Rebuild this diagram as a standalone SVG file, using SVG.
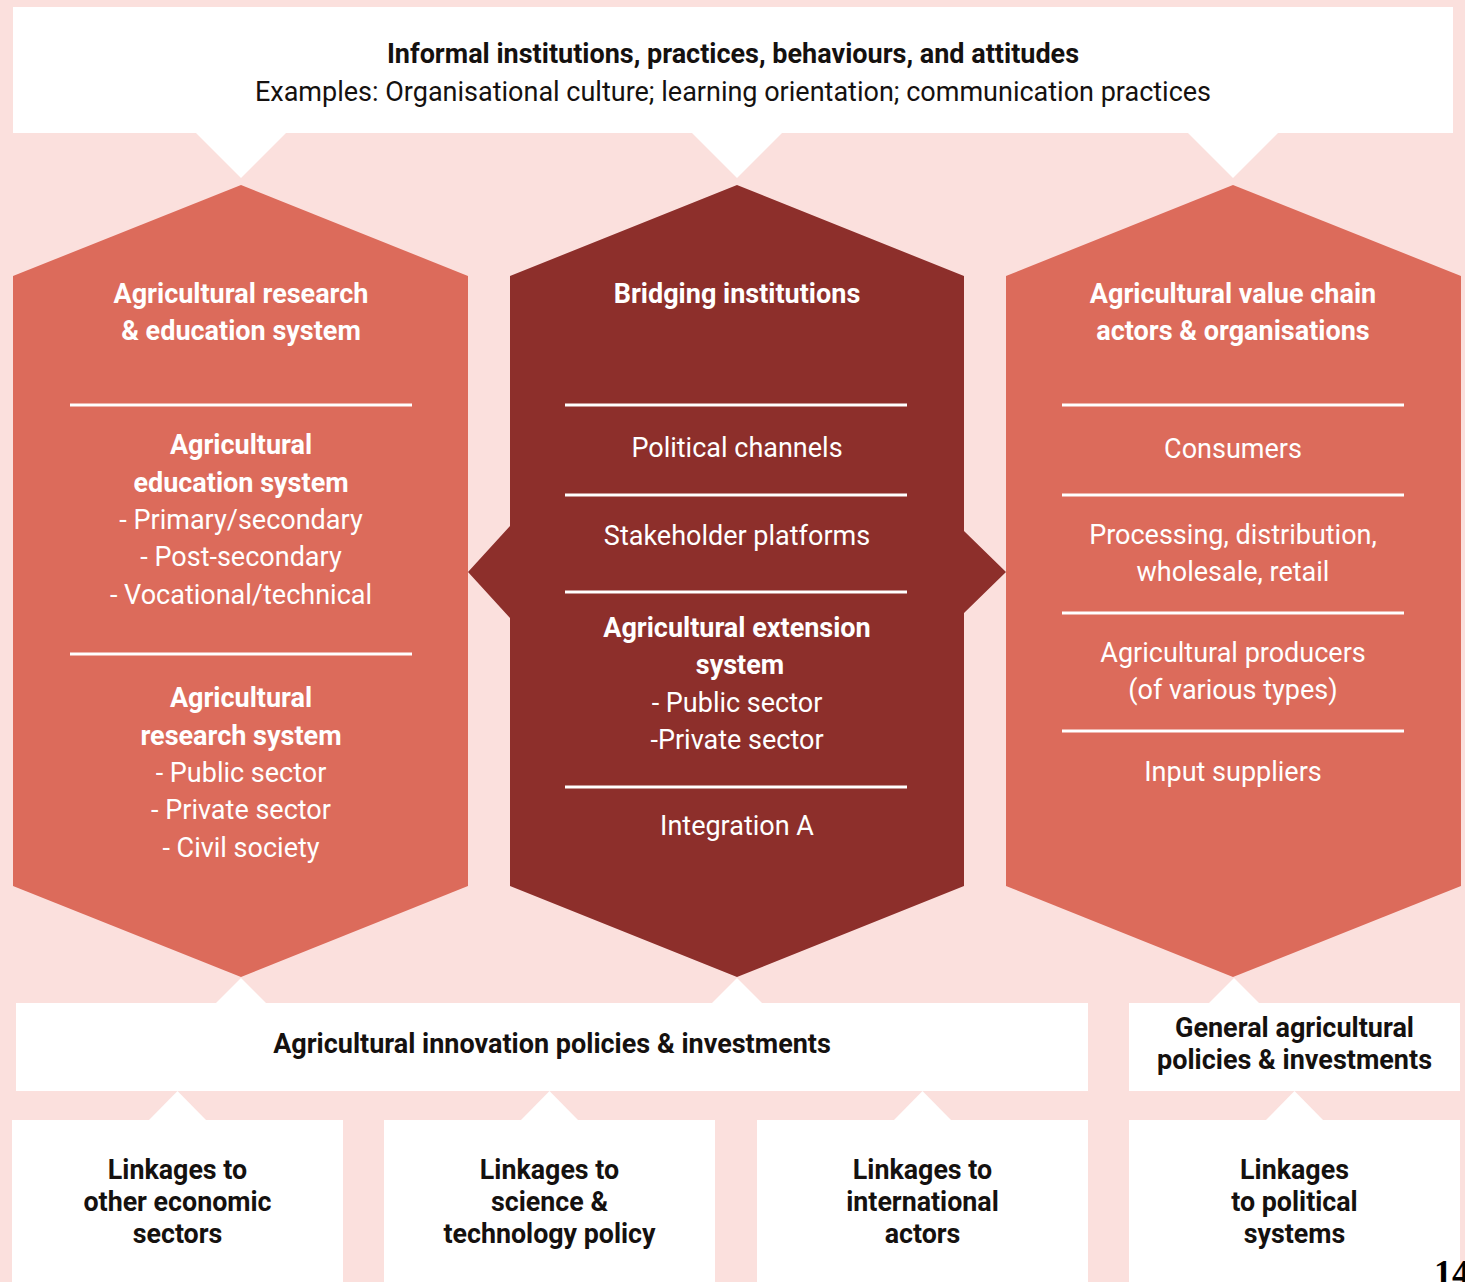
<svg xmlns="http://www.w3.org/2000/svg" width="1465" height="1282" viewBox="0 0 1465 1282">
  <style>
    .bg { fill: #FBE0DD; }
    .box { fill: #FFFFFF; }
    .hex { fill: #DC6B5B; }
    .hex-dark { fill: #8D2F2B; }
    .sep { stroke: #FFFFFF; stroke-width: 3; fill: none; }
    .notch { fill: #FFFFFF; }
    text { font-family: Roboto, "Liberation Sans", sans-serif; text-anchor: middle; }
    .t-dark { fill: #15110F; }
    .t-light { fill: #FFFFFF; }
    .b { font-weight: 700; }
    .r { font-weight: 400; }
    .s25 { font-size: 27px; }
    .s24 { font-size: 26.8px; }
    .page { font-family: "Liberation Serif", serif; font-weight: 700; font-size: 36px; fill: #000000; text-anchor: start; }
  </style>

  <rect class="bg" x="0" y="0" width="1465" height="1282"/>

  <!-- Top banner -->
  <g id="informal-institutions">
    <rect class="box" x="13" y="7" width="1440" height="126"/>
    <text class="t-dark b s25" x="733" y="63">Informal institutions, practices, behaviours, and attitudes</text>
    <text class="t-dark r s25" x="733" y="101">Examples: Organisational culture; learning orientation; communication practices</text>
  </g>

  <!-- Connectors: pointer notches between blocks -->
  <g id="connectors">
    <polygon class="notch" points="195,132 287,132 241,178"/>
    <polygon class="notch" points="691,132 783,132 737,178"/>
    <polygon class="notch" points="1187,132 1279,132 1233,178"/>
    <polygon class="notch" points="215,1004 241,978 267,1004"/>
    <polygon class="notch" points="711,1004 737,978 763,1004"/>
    <polygon class="notch" points="1208,1004 1234,978 1260,1004"/>
    <polygon class="notch" points="148,1121 177.5,1091 207,1121"/>
    <polygon class="notch" points="520,1121 549.5,1091 579,1121"/>
    <polygon class="notch" points="893,1121 922.5,1091 952,1121"/>
    <polygon class="notch" points="1265,1121 1294.5,1091 1324,1121"/>
  </g>

  <!-- Left hexagon -->
  <g id="research-education">
    <polygon class="hex" points="241,185 468,276 468,886 241,977 13,886 13,276"/>
    <line class="sep" x1="70" y1="405" x2="412" y2="405"/>
    <line class="sep" x1="70" y1="654" x2="412" y2="654"/>
    <text class="t-light b s25" x="241" y="303">Agricultural research</text>
    <text class="t-light b s25" x="241" y="340">&amp; education system</text>
    <text class="t-light b s25" x="241" y="454">Agricultural</text>
    <text class="t-light b s25" x="241" y="492">education system</text>
    <text class="t-light r s25" x="241" y="529">- Primary/secondary</text>
    <text class="t-light r s25" x="241" y="566">- Post-secondary</text>
    <text class="t-light r s25" x="241" y="604">- Vocational/technical</text>
    <text class="t-light b s25" x="241" y="707">Agricultural</text>
    <text class="t-light b s25" x="241" y="745">research system</text>
    <text class="t-light r s25" x="241" y="782">- Public sector</text>
    <text class="t-light r s25" x="241" y="819">- Private sector</text>
    <text class="t-light r s25" x="241" y="857">- Civil society</text>
  </g>

  <!-- Middle hexagon -->
  <g id="bridging-institutions">
    <polygon class="hex-dark" points="737,185 964,276 964,531 1006,572 964,613 964,886 737,977 510,886 510,618 468,572 510,526 510,276"/>
    <line class="sep" x1="565" y1="405" x2="907" y2="405"/>
    <line class="sep" x1="565" y1="495" x2="907" y2="495"/>
    <line class="sep" x1="565" y1="592" x2="907" y2="592"/>
    <line class="sep" x1="565" y1="787" x2="907" y2="787"/>
    <text class="t-light b s25" x="737" y="303">Bridging institutions</text>
    <text class="t-light r s25" x="737" y="457">Political channels</text>
    <text class="t-light r s25" x="737" y="545">Stakeholder platforms</text>
    <text class="t-light b s25" x="737" y="637">Agricultural extension</text>
    <text class="t-light b s25" x="740" y="674">system</text>
    <text class="t-light r s25" x="737" y="712">- Public sector</text>
    <text class="t-light r s25" x="737" y="749">-Private sector</text>
    <text class="t-light r s25" x="737" y="835">Integration A</text>
  </g>

  <!-- Right hexagon -->
  <g id="value-chain">
    <polygon class="hex" points="1233,185 1461,276 1461,886 1233,977 1006,886 1006,276"/>
    <line class="sep" x1="1062" y1="405" x2="1404" y2="405"/>
    <line class="sep" x1="1062" y1="495" x2="1404" y2="495"/>
    <line class="sep" x1="1062" y1="613" x2="1404" y2="613"/>
    <line class="sep" x1="1062" y1="731" x2="1404" y2="731"/>
    <text class="t-light b s25" x="1233" y="303">Agricultural value chain</text>
    <text class="t-light b s25" x="1233" y="340">actors &amp; organisations</text>
    <text class="t-light r s25" x="1233" y="458">Consumers</text>
    <text class="t-light r s25" x="1233" y="544">Processing, distribution,</text>
    <text class="t-light r s25" x="1233" y="581">wholesale, retail</text>
    <text class="t-light r s25" x="1233" y="662">Agricultural producers</text>
    <text class="t-light r s25" x="1233" y="699">(of various types)</text>
    <text class="t-light r s25" x="1233" y="781">Input suppliers</text>
  </g>

  <!-- Policy boxes -->
  <g id="innovation-policies">
    <rect class="box" x="16" y="1003" width="1072" height="88"/>
    <text class="t-dark b s25" x="552" y="1053">Agricultural innovation policies &amp; investments</text>
  </g>
  <g id="general-policies">
    <rect class="box" x="1129" y="1003" width="331" height="88"/>
    <text class="t-dark b s25" x="1294.5" y="1037">General agricultural</text>
    <text class="t-dark b s25" x="1294.5" y="1069">policies &amp; investments</text>
  </g>

  <!-- Linkage boxes -->
  <g id="linkage-economic">
    <rect class="box" x="12" y="1120" width="331" height="170"/>
    <text class="t-dark b s24" x="177.5" y="1179">Linkages to</text>
    <text class="t-dark b s24" x="177.5" y="1211">other economic</text>
    <text class="t-dark b s24" x="177.5" y="1243">sectors</text>
  </g>
  <g id="linkage-science">
    <rect class="box" x="384" y="1120" width="331" height="170"/>
    <text class="t-dark b s24" x="549.5" y="1179">Linkages to</text>
    <text class="t-dark b s24" x="549.5" y="1211">science &amp;</text>
    <text class="t-dark b s24" x="549.5" y="1243">technology policy</text>
  </g>
  <g id="linkage-international">
    <rect class="box" x="757" y="1120" width="331" height="170"/>
    <text class="t-dark b s24" x="922.5" y="1179">Linkages to</text>
    <text class="t-dark b s24" x="922.5" y="1211">international</text>
    <text class="t-dark b s24" x="922.5" y="1243">actors</text>
  </g>
  <g id="linkage-political">
    <rect class="box" x="1129" y="1120" width="331" height="170"/>
    <text class="t-dark b s24" x="1294.5" y="1179">Linkages</text>
    <text class="t-dark b s24" x="1294.5" y="1211">to political</text>
    <text class="t-dark b s24" x="1294.5" y="1243">systems</text>
  </g>

  <!-- Page number -->
  <text class="page" x="1434" y="1285">14</text>
</svg>
